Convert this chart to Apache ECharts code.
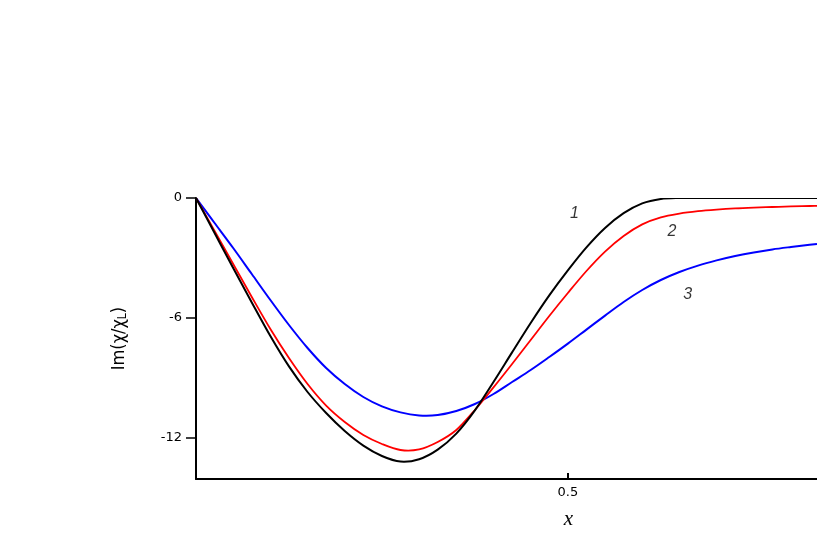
<!DOCTYPE html>
<html>
<head>
  <meta charset="UTF-8">
  <title>Im(chi/chiL)</title>
  <script src="https://cdn.jsdelivr.net/npm/echarts@6.0.0/dist/echarts.min.js"></script>
  <style>
    html, body { margin: 0; padding: 0; background: #fff; }
    #chart { width: 817px; height: 545px; }
  </style>
</head>
<body>
  <div id="chart"></div>
  <script>
    // x positions shared by the three curves
    const xs = [0, 0.025, 0.05, 0.075, 0.1, 0.125, 0.15, 0.175, 0.2, 0.225, 0.25, 0.275, 0.3,
      0.325, 0.35, 0.375, 0.4, 0.425, 0.45, 0.475, 0.5, 0.525, 0.55, 0.575, 0.6, 0.625, 0.65,
      0.675, 0.7, 0.725, 0.75, 0.775, 0.8, 0.825, 0.835];
    // curve 1 (black)
    const curve1 = [0, -1.75, -3.5, -5.22, -6.9, -8.42, -9.7, -10.75, -11.65, -12.38, -12.9, -13.18, -13.06,
      -12.58, -11.78, -10.62, -9.2, -7.72, -6.25, -4.87, -3.62, -2.47, -1.5, -0.76, -0.27, -0.05, 0,
      0, 0, 0, 0, 0, 0, 0, 0];
    // curve 2 (red)
    const curve2 = [0, -1.65, -3.3, -4.95, -6.55, -8.0, -9.3, -10.38, -11.2, -11.85, -12.3, -12.6, -12.57,
      -12.2, -11.6, -10.6, -9.47, -8.3, -7.1, -5.9, -4.75, -3.65, -2.68, -1.9, -1.32, -0.97, -0.78,
      -0.66, -0.58, -0.52, -0.48, -0.45, -0.42, -0.4, -0.39];
    // curve 3 (blue)
    const curve3 = [0, -1.25, -2.5, -3.8, -5.1, -6.35, -7.5, -8.5, -9.3, -9.95, -10.42, -10.72, -10.87,
      -10.85, -10.65, -10.3, -9.8, -9.2, -8.6, -7.95, -7.28, -6.58, -5.88, -5.2, -4.6, -4.1, -3.7,
      -3.38, -3.12, -2.9, -2.72, -2.57, -2.45, -2.34, -2.3];
    // curve numbers
    const tagText = ['1', '2', '3'];
    const tagX = [0.509, 0.64, 0.661];
    const tagY = [-0.8, -1.7, -4.85];
    const xTicks = [0.5];
    const yTicks = [0, -6, -12];

    const pairs = ys => xs.map((x, i) => [x, ys[i]]);

    // smooth cubic (Catmull-Rom style) curve through the points, drawn on the grid's axes
    const curveSeries = (ys, color, width) => ({
      type: 'custom',
      coordinateSystem: 'cartesian2d',
      data: pairs(ys),
      encode: { x: 0, y: 1 },
      silent: true,
      clip: true,
      renderItem: function (params, api) {
        if (params.dataIndex !== 0) return;
        const p = xs.map((x, i) => api.coord([x, ys[i]]));
        const n = p.length;
        const slope = i => {
          const a = p[Math.max(i - 1, 0)], b = p[Math.min(i + 1, n - 1)];
          return (b[1] - a[1]) / (b[0] - a[0]);
        };
        let d = 'M' + p[0][0] + ' ' + p[0][1];
        for (let i = 0; i < n - 1; i++) {
          const h = (p[i + 1][0] - p[i][0]) / 3;
          const m0 = slope(i), m1 = slope(i + 1);
          d += ' C' + (p[i][0] + h) + ' ' + (p[i][1] + m0 * h) + ' ' +
            (p[i + 1][0] - h) + ' ' + (p[i + 1][1] - m1 * h) + ' ' +
            p[i + 1][0] + ' ' + p[i + 1][1];
        }
        return {
          type: 'path',
          shape: { pathData: d },
          style: { stroke: color, lineWidth: width, fill: null, lineJoin: 'round' }
        };
      }
    });

    const chart = echarts.init(document.getElementById('chart'));
    chart.setOption({
      animation: false,
      grid: { left: 196, right: 0, top: 198, bottom: 66, containLabel: false, outerBoundsMode: 'none' },
      xAxis: {
        type: 'value',
        min: 0,
        max: 0.835,
        splitLine: { show: false },
        axisLine: { onZero: false, lineStyle: { color: '#000', width: 2 } },
        axisTick: { inside: true, length: 6, customValues: xTicks, lineStyle: { color: '#000', width: 2 } },
        axisLabel: {
          customValues: xTicks, margin: 7, color: '#000', fontSize: 13,
          fontFamily: 'DejaVu Sans'
        },
        name: 'x',
        nameLocation: 'middle',
        nameGap: 30,
        nameTextStyle: {
          fontFamily: 'Liberation Serif', fontStyle: 'italic', fontSize: 21, color: '#000',
          padding: [0, 0, 0, 124]
        }
      },
      yAxis: {
        type: 'value',
        min: -14.05,
        max: 0,
        splitLine: { show: false },
        axisLine: { onZero: false, lineStyle: { color: '#000', width: 2 } },
        axisTick: { length: 10, customValues: yTicks, lineStyle: { color: '#000', width: 1.5 } },
        axisLabel: {
          customValues: yTicks, margin: 14, color: '#000', fontSize: 13,
          fontFamily: 'DejaVu Sans'
        },
        name: 'Im(χ/χ{sub|L})',
        nameLocation: 'middle',
        nameGap: 67,
        nameRotate: 90,
        nameTextStyle: {
          fontFamily: 'Liberation Sans Narrow, DejaVu Sans Condensed, sans-serif',
          fontSize: 18, color: '#000',
          rich: { sub: { fontSize: 12, verticalAlign: 'bottom', padding: [8, 0, 0, 0],
            fontFamily: 'Liberation Sans Narrow, DejaVu Sans Condensed, sans-serif' } }
        }
      },
      series: [
        curveSeries(curve3, '#0000ff', 2),
        curveSeries(curve2, '#ff0000', 1.8),
        curveSeries(curve1, '#000000', 2),
        {
          type: 'scatter',
          symbolSize: 0,
          silent: true,
          data: tagX.map((x, i) => ({ value: [x, tagY[i]], name: tagText[i] })),
          label: {
            show: true, position: 'inside', formatter: '{b}', color: '#000',
            fontSize: 16, fontStyle: 'italic', fontFamily: 'Liberation Sans'
          }
        }
      ]
    });
  </script>
</body>
</html>
